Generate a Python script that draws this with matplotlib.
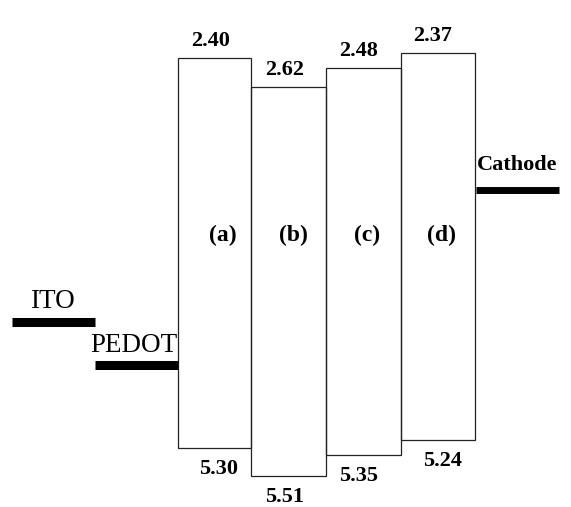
import matplotlib
matplotlib.use("Agg")
import matplotlib.pyplot as plt

# Energy levels (eV below vacuum)
materials = ["(a)", "(b)", "(c)", "(d)"]
lumo = [2.40, 2.62, 2.48, 2.37]
homo = [5.30, 5.51, 5.35, 5.24]
electrodes = ["ITO", "PEDOT", "Cathode"]
electrode_levels = [4.36, 4.68, 3.38]

# Layout (horizontal positions in figure pixels)
box_left = [178, 251, 326, 401]
box_width = [73, 75, 75, 74]
top_dx = [-4, -4, -5, -5]
bot_dx = [4, -4, -5, 4]
letter_dx = [8, 5, 4, 4]
electrode_x = [(12, 95), (95, 178), (476, 559)]
electrode_lw = [6.5, 6.5, 5.0]
electrode_text = [(52, 301, "normal", 19.5), (134, 345, "normal", 19.5), (517, 165, "bold", 16)]

plt.rcParams["font.family"] = ["Liberation Serif", "DejaVu Serif"]

fig = plt.figure(figsize=(5.71, 5.07), dpi=100)
ax = fig.add_axes([0, 0, 1, 1])
ax.set_xlim(0, 571)
ax.set_ylim(5.737, 1.973)
ax.axis("off")

heights = [h - l for h, l in zip(homo, lumo)]
ax.bar(box_left, heights, width=box_width, bottom=lumo, align="edge",
       fill=False, edgecolor="#222222", linewidth=0.9)

for i, name in enumerate(materials):
    cx = box_left[i] + box_width[i] / 2
    ax.annotate(f"{lumo[i]:.2f}", (cx, lumo[i]), xytext=(top_dx[i], 17),
                textcoords="offset pixels", ha="center", va="center",
                fontsize=16, fontweight="bold")
    ax.annotate(f"{homo[i]:.2f}", (cx, homo[i]), xytext=(bot_dx[i], -21),
                textcoords="offset pixels", ha="center", va="center",
                fontsize=16, fontweight="bold")
    ax.annotate(name, (cx, 0), xycoords=("data", "figure pixels"),
                xytext=(letter_dx[i], 507 - 235), textcoords="offset pixels",
                ha="center", va="center", fontsize=17, fontweight="bold")

for (x0, x1), lvl, lw in zip(electrode_x, electrode_levels, electrode_lw):
    ax.hlines(lvl, x0, x1, colors="black", linewidth=lw)

for name, (tx, ty, wt, fs) in zip(electrodes, electrode_text):
    ax.text(tx, 507 - ty, name, transform=None, ha="center", va="center",
            fontsize=fs, fontweight=wt)

fig.savefig("out.png", dpi=100)
